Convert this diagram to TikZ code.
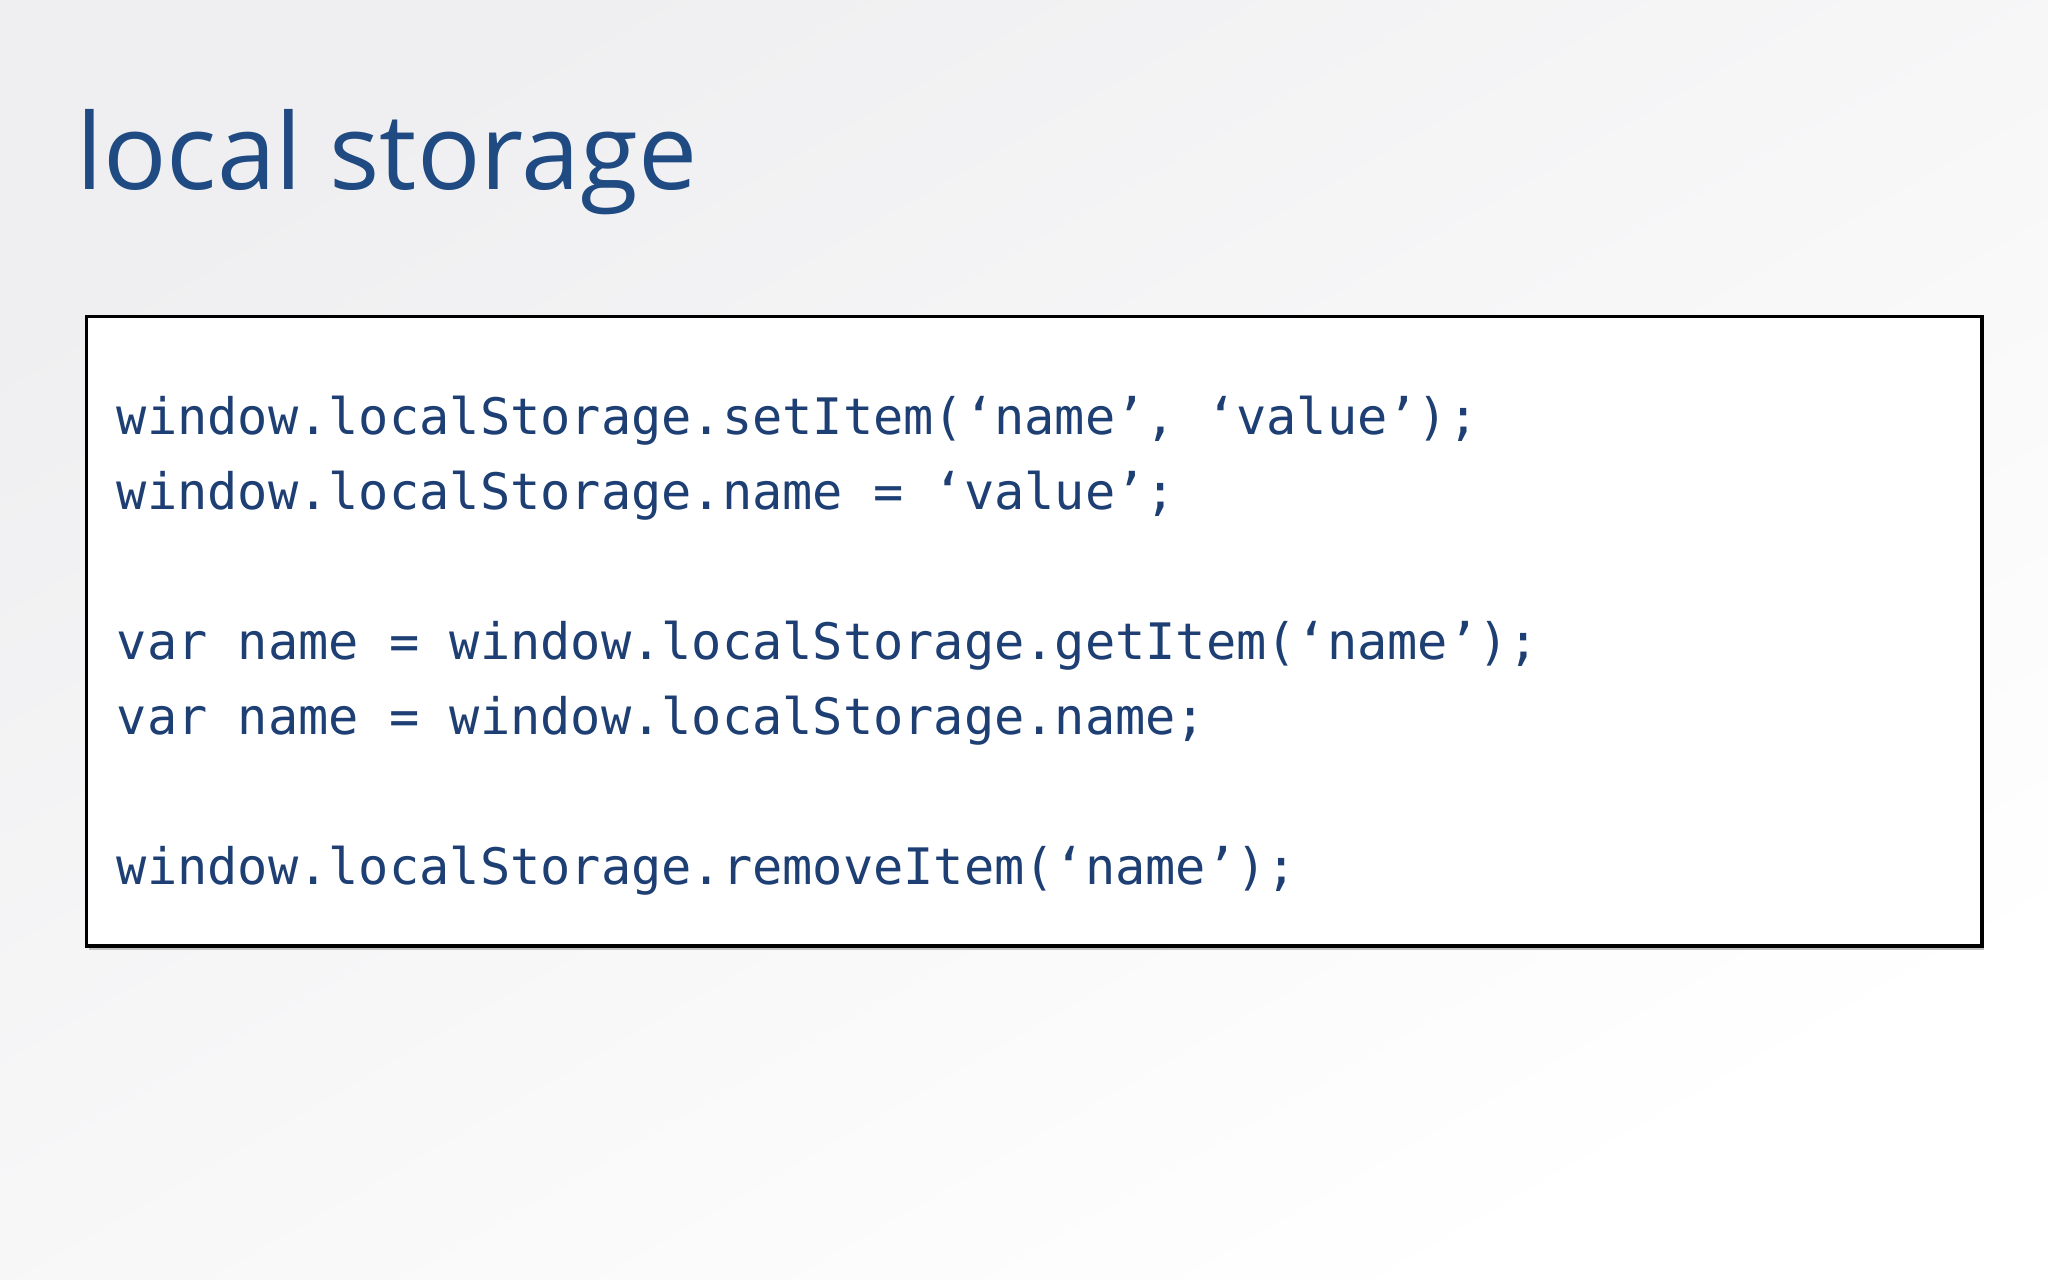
\documentclass[tikz,border=0pt]{standalone}
\usepackage{fontspec}
\setmainfont{Open Sans}
\newfontfamily\codefont{DejaVu Sans Mono}
\definecolor{ttl}{HTML}{1F4A82}
\definecolor{code}{HTML}{1E3F73}
\definecolor{bgA}{HTML}{EFEFF1}
\tikzset{codeline/.style={anchor=base west,inner sep=0pt,text=code,font=\codefont\fontsize{14.3}{16}\selectfont}}
\begin{document}
\begin{tikzpicture}[x=0.013061cm,y=-0.013061cm]
\useasboundingbox (0,0) rectangle (1568,980);
\shade[top color=bgA,bottom color=white,shading angle=30] (0,0) rectangle (1568,980);
\node[anchor=base west,inner sep=0pt,text=ttl,font=\fontsize{30}{36}\selectfont] (title) at (58,145) {local storage};
\fill[black!25] (68,244) rectangle (1519,727);
\node[draw=black,line width=1pt,fill=white,minimum width=1451*0.013061cm,minimum height=482*0.013061cm,anchor=north west,inner sep=0pt] (box) at (65,241) {};
\node[codeline] (l1) at (89,333) {window.localStorage.setItem(‘name’, ‘value’);};
\node[codeline] (l2) at (89,390) {window.localStorage.name = ‘value’;};
\node[codeline] (l3) at (89,505) {var name = window.localStorage.getItem(‘name’);};
\node[codeline] (l4) at (89,562) {var name = window.localStorage.name;};
\node[codeline] (l5) at (89,677) {window.localStorage.removeItem(‘name’);};
\end{tikzpicture}
\end{document}
